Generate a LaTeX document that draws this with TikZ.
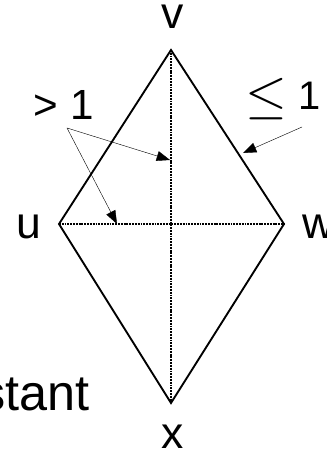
\RequirePackage{fix-cm}
\documentclass[tikz,border=0pt]{standalone}
\usepackage{fontspec}
\setmainfont{Liberation Sans}
\usepackage{tikz}
\usetikzlibrary{arrows.meta}

\begin{document}
\begin{tikzpicture}[scale=1.0,
    edge/.style={line width=1.6pt,line join=miter},
    diag/.style={line width=1pt,dash pattern=on 1.6pt off 0.8pt},
    pointer/.style={-{Triangle[length=0.4cm,width=0.3cm]},line width=0.35pt},
    lab/.style={inner sep=0pt,font=\fontsize{38}{44}\selectfont}]

  \useasboundingbox (0,0) rectangle (9.81,13.53);
  \clip (0,0) rectangle (9.81,13.53);

  % Corners
  \coordinate (v) at (5.13,12.03);
  \coordinate (u) at (1.77,6.81);
  \coordinate (w) at (8.52,6.81);
  \coordinate (x) at (5.13,1.44);

  % Diagonals
  \draw[diag] (v) -- (x);
  \draw[diag] (u) -- (w);

  % Rhombus
  \draw[edge] (v) -- (w) -- (x) -- (u) -- cycle;

  % Corner labels
  \node[lab] (labv) at (5.19,13.02) {v};
  \node[lab] (labu) at (0.87,6.72) {u};
  \node[lab] (labw) at (9.57,6.72) {w};
  \node[lab] (labx) at (5.19,0.42) {x};

  % Length labels
  \node[lab,font=\fontsize{36}{42}\selectfont] (longer) at (1.91,10.38) {> 1};
  \node[lab,font=\fontsize{34}{40}\selectfont] (shorter) at (8.5,10.56)
    {\raisebox{-0.1cm}{\scalebox{1.35}{$\leq$}} 1};

  % Cut-off text
  \node[anchor=base west,inner sep=0pt,font=\fontsize{43}{50}\selectfont]
    (cut) at (-0.6,1.23) {stant};

  % Arrows
  \coordinate (longfoot) at (2.01,9.69);
  \coordinate (vtip) at (5.10,8.73);
  \coordinate (htip) at (3.51,6.81);
  \coordinate (shortfoot) at (9.06,9.72);
  \coordinate (etip) at (7.29,8.94);
  \draw[pointer] (longfoot) -- (vtip);
  \draw[pointer] (longfoot) -- (htip);
  \draw[pointer] (shortfoot) -- (etip);

\end{tikzpicture}
\end{document}
